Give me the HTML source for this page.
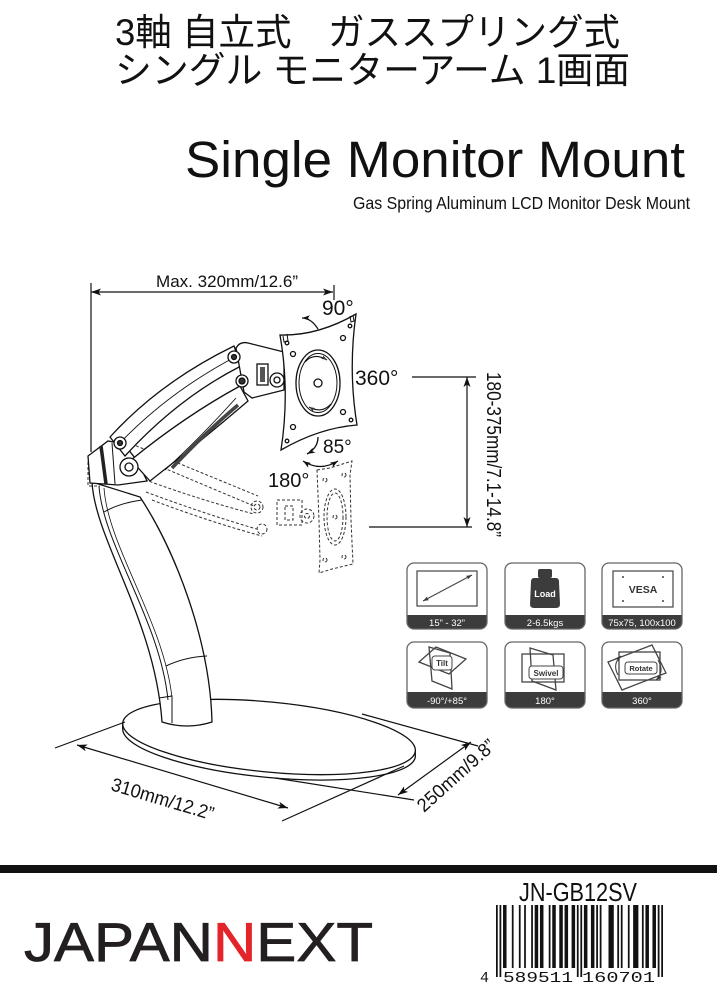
<!DOCTYPE html>
<html><head><meta charset="utf-8">
<style>
html,body{margin:0;padding:0;background:#fff;width:717px;height:1000px;overflow:hidden}
svg{display:block}
</style></head>
<body>
<svg width="717" height="1000" viewBox="0 0 717 1000" xmlns="http://www.w3.org/2000/svg" font-family="'Liberation Sans','Noto Sans CJK JP',sans-serif">
<defs>
<marker id="ah" viewBox="0 0 10 7" refX="10" refY="3.5" markerWidth="10" markerHeight="7" markerUnits="userSpaceOnUse" orient="auto-start-reverse"><path d="M0,0 L10,3.5 L0,7 L2.5,3.5Z" fill="#111"/></marker>
<marker id="am" viewBox="0 0 10 7" refX="10" refY="3.5" markerWidth="8" markerHeight="6" markerUnits="userSpaceOnUse" orient="auto-start-reverse"><path d="M0,0 L10,3.5 L0,7 L2.5,3.5Z" fill="#111"/></marker>
<marker id="as" viewBox="0 0 10 7" refX="10" refY="3.5" markerWidth="6" markerHeight="4.5" markerUnits="userSpaceOnUse" orient="auto-start-reverse"><path d="M0,0 L10,3.5 L0,7 L2.5,3.5Z" fill="#333"/></marker>
</defs>
<rect width="717" height="1000" fill="#fff"/>

<!-- Titles -->
<g fill="#111">
<text x="115" y="45" font-size="37" textLength="505" lengthAdjust="spacingAndGlyphs">3軸 自立式　ガススプリング式</text>
<text x="115" y="83" font-size="37" textLength="515" lengthAdjust="spacingAndGlyphs">シングル モニターアーム 1画面</text>
<text x="185" y="177" font-size="51" textLength="500" lengthAdjust="spacingAndGlyphs">Single Monitor Mount</text>
<text x="353" y="209" font-size="17.5" textLength="337" lengthAdjust="spacingAndGlyphs">Gas Spring Aluminum LCD Monitor Desk Mount</text>
</g>

<!-- Base -->
<ellipse cx="269" cy="737" rx="147" ry="35" transform="rotate(5.5 269 737)" fill="#fff" stroke="#111" stroke-width="1.3"/>
<path d="M122.7,722.9 L122.7,728.9 A147 35 5.5 0 0 415.3,757.1 L415.3,751.1" fill="none" stroke="#111" stroke-width="1.3"/>

<!-- Column -->
<g stroke="#111" fill="none" stroke-width="1.3">
<path d="M92,482 C95,540 155,620 162,722 Q187,730 212,722 C210,640 175,550 140,497 Z" fill="#fff"/>
<path d="M99,486 C103,545 160,620 168,700" stroke-width="1"/>
<path d="M104,488 C108,547 164,622 172,698" stroke-width=".8"/>
<path d="M104,512 Q120,503 142,500" stroke-width="1"/>
<path d="M166,666 Q185,657 207,656" stroke-width="1"/>
<path d="M159,698 L172,696 L172,723" stroke-width="1"/>
</g>

<!-- Dashed (lower) arm -->
<g stroke="#333" stroke-width="1" stroke-dasharray="3 2" fill="none">
<path d="M122,440 Q190,468 258,496"/>
<path d="M126,452 Q192,480 254,506"/>
<path d="M140,478 Q200,500 254,514"/>
<path d="M146,492 Q205,514 260,530"/>
<path d="M152,500 Q210,522 262,536"/>
<path d="M88,462 L88,486 L100,486"/>
<circle cx="257" cy="507" r="6"/><circle cx="257" cy="507" r="3"/>
<circle cx="262" cy="529" r="5"/>
<rect x="277" y="500" width="25" height="25"/>
<rect x="285" y="506" width="8" height="14"/>
<circle cx="307" cy="516" r="7"/><circle cx="307" cy="516" r="2.5"/>
<path d="M317,470 L330,468 L352,461 L350,475 L351,520 L353,564 L332,569 L319,573 L320,560 L319,520 Z"/>
<ellipse cx="335" cy="517" rx="11" ry="28"/>
<ellipse cx="335" cy="517" rx="8" ry="24"/>
<circle cx="325" cy="480" r="2"/><circle cx="344" cy="475" r="2"/>
<circle cx="325" cy="560" r="2"/><circle cx="344" cy="557" r="2"/>
<circle cx="335" cy="517" r="2"/>
</g>

<!-- Solid arm -->
<g stroke="#111" stroke-width="1.3" fill="#fff">
<path d="M88,456 L108,441 L124,444 L138,462 L147,481 L118,485 L90,483 Z"/>
<path d="M101,446 L106,484" stroke="#222" stroke-width="3.5" fill="none"/>
<path d="M112,443 L115,484" stroke-width="1" fill="none"/>
<path d="M131,460 Q185,416 240,386 L248,401 Q200,442 150,481 Z"/>
<path d="M172,468 Q206,432 238,405" stroke="#444" stroke-width="3.5" fill="none"/>
<path d="M165,470 Q200,438 236,398" stroke-width=".9" fill="none"/>
<path d="M110,437 Q160,382 234,346 L241,366 Q178,398 125,456 Z"/>
<path d="M117,446 Q168,392 237,356" stroke-width=".9" fill="none"/>
<circle cx="120" cy="443" r="6"/><circle cx="120" cy="443" r="2.5" fill="#333"/>
<circle cx="129" cy="467" r="9"/><circle cx="129" cy="467" r="4"/>
<path d="M236,348 Q240,341 248,343 L284,352 L284,390 L252,398 L244,392 Z"/>
<circle cx="234" cy="357" r="6"/><circle cx="234" cy="357" r="2.5" fill="#333"/>
<circle cx="242" cy="381" r="6"/><circle cx="242" cy="381" r="3" fill="#333"/>
<rect x="257" y="364" width="11" height="21"/>
<rect x="260" y="367" width="5" height="15" fill="#555" stroke="none"/>
<circle cx="277" cy="380" r="7"/><circle cx="277" cy="380" r="3"/>
</g>

<!-- Solid plate -->
<g stroke="#111" stroke-width="1.3" fill="none">
<path d="M280,335 Q318,336 356,314 Q348,370 357,425 Q319,428 281,450 Q290,392 280,335 Z" fill="#fff"/>
<path d="M283,336 L284,342 L288,341 L287,334" stroke-width="1"/>
<path d="M350,316 L351,322 L354,321 L353,315" stroke-width="1"/>
<ellipse cx="318" cy="383" rx="22" ry="33"/>
<ellipse cx="318" cy="383" rx="19" ry="29.5" stroke-width="1"/>
<circle cx="318" cy="383" r="4"/>
<circle cx="343" cy="338" r="2.5"/><circle cx="293" cy="354" r="2.5"/>
<circle cx="343" cy="412" r="2.5"/><circle cx="293" cy="427" r="2.5"/>
<circle cx="350" cy="326" r="1.8"/><circle cx="287" cy="343" r="1.8"/>
<circle cx="351" cy="420" r="1.8"/><circle cx="287" cy="441" r="1.8"/>
<path d="M305,362 Q314,352 327,360" stroke-width="1.1" marker-end="url(#as)"/>
<path d="M331,404 Q322,414 309,407" stroke-width="1.1" marker-end="url(#as)"/>
</g>

<!-- Dimension lines -->
<g stroke="#111" stroke-width="1.2" fill="none">
<line x1="91" y1="292" x2="333" y2="292" marker-start="url(#ah)" marker-end="url(#ah)"/>
<line x1="91" y1="283" x2="91" y2="452"/>
<line x1="334" y1="285" x2="334" y2="300"/>
<line x1="412" y1="377" x2="476" y2="377"/>
<line x1="467" y1="377" x2="467" y2="527" marker-start="url(#ah)" marker-end="url(#ah)"/>
<line x1="369" y1="527" x2="472" y2="527"/>
<line x1="55" y1="748" x2="125" y2="722"/>
<line x1="77" y1="745" x2="288" y2="808" marker-start="url(#ah)" marker-end="url(#ah)"/>
<line x1="282" y1="821" x2="404" y2="766"/>
<line x1="398" y1="795" x2="471" y2="742" marker-start="url(#ah)" marker-end="url(#ah)"/>
<line x1="362" y1="714" x2="478" y2="746"/>
<line x1="275" y1="778" x2="414" y2="800"/>
<path d="M318,329 Q311,318 302,318" stroke-width="1.3" marker-end="url(#am)"/>
<path d="M318,437 Q318,448 307,454" stroke-width="1.3" marker-end="url(#am)"/>
<path d="M303,461 Q320,472 338,461" stroke-width="1.3" marker-start="url(#am)" marker-end="url(#am)"/>
</g>

<!-- Diagram labels -->
<g fill="#111">
<text x="156" y="287" font-size="17" textLength="142" lengthAdjust="spacingAndGlyphs">Max. 320mm/12.6”</text>
<text x="322" y="315" font-size="21">90°</text>
<text x="355" y="385" font-size="21">360°</text>
<text x="323" y="453" font-size="19">85°</text>
<text x="268" y="487" font-size="20">180°</text>
<text transform="translate(487,372) rotate(90)" font-size="20" textLength="165" lengthAdjust="spacingAndGlyphs">180-375mm/7.1-14.8”</text>
<text transform="translate(110,790) rotate(16.6)" font-size="19" textLength="106" lengthAdjust="spacingAndGlyphs">310mm/12.2”</text>
<text transform="translate(424,813) rotate(-42)" font-size="19" textLength="98" lengthAdjust="spacingAndGlyphs">250mm/9.8”</text>
</g>

<!-- Icons -->
<g>
<g fill="#3c3c3c">
<path d="M407,615 H487 V622 Q487,629 480,629 H414 Q407,629 407,622 Z"/>
<path d="M505,615 H585 V622 Q585,629 578,629 H512 Q505,629 505,622 Z"/>
<path d="M602,615 H682 V622 Q682,629 675,629 H609 Q602,629 602,622 Z"/>
<path d="M407,692 H487 V701 Q487,708 480,708 H414 Q407,708 407,701 Z"/>
<path d="M505,692 H585 V701 Q585,708 578,708 H512 Q505,708 505,701 Z"/>
<path d="M602,692 H682 V701 Q682,708 675,708 H609 Q602,708 602,701 Z"/>
</g>
<g fill="none" stroke="#666" stroke-width="1.3">
<rect x="407" y="563" width="80" height="66" rx="7"/>
<rect x="505" y="563" width="80" height="66" rx="7"/>
<rect x="602" y="563" width="80" height="66" rx="7"/>
<rect x="407" y="642" width="80" height="66" rx="7"/>
<rect x="505" y="642" width="80" height="66" rx="7"/>
<rect x="602" y="642" width="80" height="66" rx="7"/>
</g>
<g fill="#fff" font-size="9.5" text-anchor="middle">
<text x="447" y="626">15” - 32”</text>
<text x="545" y="626">2-6.5kgs</text>
<text x="642" y="626">75x75, 100x100</text>
<text x="447" y="704">-90°/+85°</text>
<text x="545" y="704">180°</text>
<text x="642" y="704">360°</text>
</g>
<rect x="417" y="571" width="60" height="35" fill="none" stroke="#444" stroke-width="1.2"/>
<line x1="423" y1="601" x2="472" y2="575" stroke="#444" stroke-width="1" marker-start="url(#as)" marker-end="url(#as)"/>
<rect x="538" y="569" width="14" height="9" rx="2" fill="#3c3c3c"/>
<path d="M534,578 H556 Q559,578 559,582 L560,604 Q560,608 556,608 H534 Q530,608 530,604 L531,582 Q531,578 534,578 Z" fill="#3c3c3c"/>
<text x="545" y="597" fill="#fff" font-size="9" font-weight="bold" text-anchor="middle">Load</text>
<rect x="613" y="571" width="60" height="36" fill="none" stroke="#444" stroke-width="1.2"/>
<g fill="#444"><circle cx="623" cy="577" r="1"/><circle cx="663" cy="577" r="1"/><circle cx="623" cy="601" r="1"/><circle cx="663" cy="601" r="1"/></g>
<text x="643" y="593" fill="#333" font-size="10.5" font-weight="bold" text-anchor="middle">VESA</text>
<g fill="none" stroke="#444" stroke-width="1.3">
<polygon points="419,662 436,647 466,659 449,674"/>
<polygon points="429,647 450,653 452,689 432,681"/>
</g>
<rect x="432" y="656" width="20" height="14" rx="3" fill="#fff" stroke="#444" stroke-width="1"/>
<text x="442" y="666" fill="#333" font-size="8" font-weight="bold" text-anchor="middle">Tilt</text>
<g fill="none" stroke="#444" stroke-width="1.3">
<rect x="522" y="654" width="42" height="28"/>
<polygon points="530,648 553,655 556,690 532,681"/>
</g>
<rect x="529" y="666" width="34" height="13" rx="3" fill="#fff" stroke="#444" stroke-width="1"/>
<text x="546" y="676" fill="#333" font-size="8" font-weight="bold" text-anchor="middle">Swivel</text>
<g fill="none" stroke="#444" stroke-width="1.3">
<rect x="619" y="652" width="41" height="28"/>
<polygon points="608,662 652,645 666,673 622,690"/>
<path d="M618,675 Q612,664 621,656" stroke-width="1.1" marker-end="url(#as)"/>
<path d="M658,660 Q665,672 656,680" stroke-width="1.1" marker-end="url(#as)"/>
</g>
<rect x="625" y="662" width="32" height="12" rx="3" fill="#fff" stroke="#444" stroke-width="1"/>
<text x="641" y="671" fill="#333" font-size="7.5" font-weight="bold" text-anchor="middle">Rotate</text>
</g>

<!-- Footer -->
<rect x="0" y="865" width="717" height="8" fill="#111"/>
<text x="24" y="961" font-size="55" textLength="349" lengthAdjust="spacingAndGlyphs" fill="#231f20" stroke="#231f20" stroke-width="0.8">JAPAN<tspan fill="#e3242b" stroke="#e3242b">N</tspan>EXT</text>
<text x="519" y="901" font-size="26" textLength="118" lengthAdjust="spacingAndGlyphs" fill="#111">JN-GB12SV</text>
<g transform="translate(496,905) scale(1.758,1)" fill="#111">
<rect x="0" width="1" height="72"/><rect x="2" width="1" height="72"/>
<rect x="4" width="2" height="63"/><rect x="9" width="1" height="63"/>
<rect x="13" width="1" height="63"/><rect x="16" width="1" height="63"/>
<rect x="20" width="1" height="63"/><rect x="22" width="2" height="63"/>
<rect x="25" width="2" height="63"/><rect x="30" width="1" height="63"/>
<rect x="32" width="2" height="63"/><rect x="36" width="2" height="63"/>
<rect x="39" width="2" height="63"/><rect x="43" width="2" height="63"/>
<rect x="46" width="1" height="72"/><rect x="48" width="1" height="72"/>
<rect x="50" width="2" height="63"/><rect x="54" width="2" height="63"/>
<rect x="57" width="1" height="63"/><rect x="59" width="1" height="63"/>
<rect x="64" width="3" height="63"/><rect x="69" width="1" height="63"/>
<rect x="71" width="1" height="63"/><rect x="75" width="1" height="63"/>
<rect x="78" width="3" height="63"/><rect x="83" width="1" height="63"/>
<rect x="85" width="2" height="63"/><rect x="89" width="2" height="63"/>
<rect x="92" width="1" height="72"/><rect x="94" width="1" height="72"/>
</g>
<g font-family="'Liberation Mono',monospace" font-size="15" fill="#111">
<text x="480" y="982">4</text>
<text x="503" y="982" textLength="70" lengthAdjust="spacingAndGlyphs">589511</text>
<text x="582" y="982" textLength="73" lengthAdjust="spacingAndGlyphs">160701</text>
</g>
</svg>
</body></html>
